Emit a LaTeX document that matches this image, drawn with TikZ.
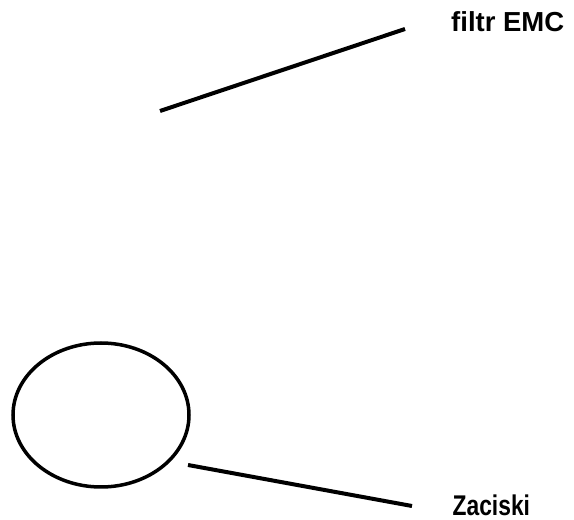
\documentclass[tikz,border=0pt]{standalone}
\usepackage{fontspec}
\setmainfont{Liberation Sans}
\usetikzlibrary{shapes.geometric}
\begin{document}
\begin{tikzpicture}[x=1pt,y=1pt,
  wire/.style={line width=4pt},
  label/.style={font=\bfseries\fontsize{27.5}{30}\selectfont, inner sep=0pt, anchor=base west}]
\useasboundingbox (0,0) rectangle (574,520);
% upper lead and its caption
\coordinate (u1) at (160,409);
\coordinate (u2) at (405,491);
\node[label] (emc) at (451,488) {filtr EMC};
\draw[wire] (u1) -- (u2);
% round terminal with its lead and caption
\node[draw, line width=3.5pt, ellipse, minimum width=176pt, minimum height=144pt, inner sep=0pt] (term) at (101,105) {};
\coordinate (l1) at (188,55);
\coordinate (l2) at (412,14);
\node[label, font=\bfseries\fontsize{28.5}{30}\selectfont] (zac) at (452.5,4.5) {\scalebox{0.8}[1]{Zaciski}};
\draw[wire] (l1) -- (l2);
\end{tikzpicture}
\end{document}
